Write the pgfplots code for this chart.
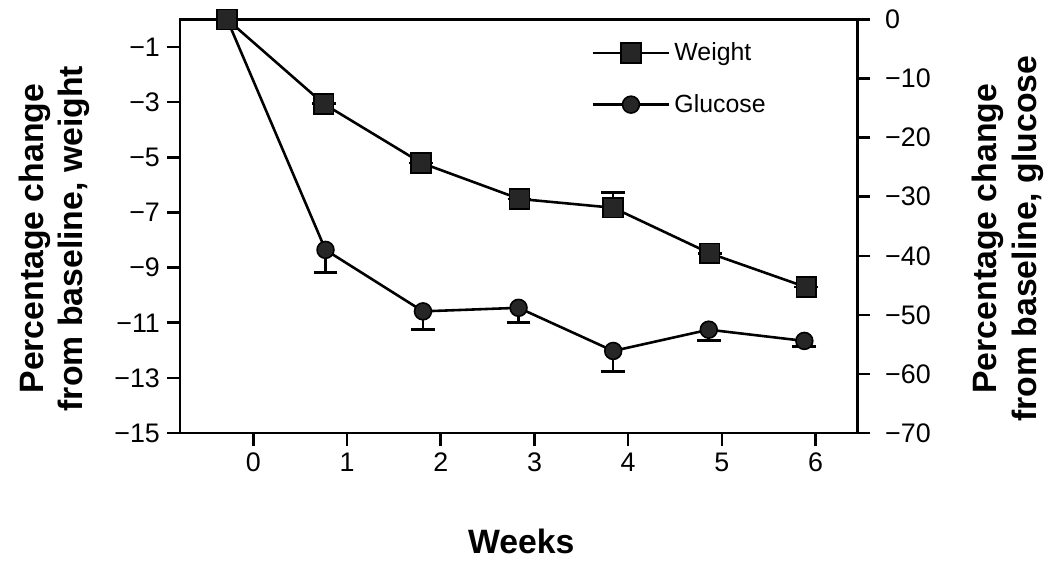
\documentclass[border=0pt]{standalone}
\usepackage{fontspec}
\setmainfont{Liberation Sans}
\usepackage{pgfplots}
\pgfplotsset{compat=1.18}
\begin{document}
\begin{tikzpicture}
\pgfplotsset{
  base/.style={
    scale only axis, width=341pt, height=208.25pt,
    xmin=-0.785, xmax=6.445,
    axis line style={line width=1.3pt},
    every tick/.style={line width=1.3pt, black},
    major tick length=6.5pt,
    tick align=outside,
    tick label style={font=\fontsize{13.5}{16}\selectfont},
    label style={font=\fontsize{17}{20}\selectfont\bfseries, align=center},
  },
  wstyle/.style={line width=1.3pt, black, mark=square*, mark size=5pt,
    mark options={fill=black!85, draw=black, line width=0.8pt}},
  gstyle/.style={line width=1.3pt, black, mark=*, mark size=4.25pt,
    mark options={fill=black!85, draw=black, line width=0.8pt}},
}
\begin{axis}[base,
  ymin=-70, ymax=0,
  ytick={-70,-60,-50,-40,-30,-20,-10,0},
  yticklabels={−70,−60,−50,−40,−30,−20,−10,0},
  yticklabel style={xshift=4pt},
  axis y line*=right, axis x line=none,
  ylabel={Percentage change\\from baseline, glucose},
  ylabel style={at={(axis description cs:1.222,0.47)}, anchor=center},
]
\addplot+[gstyle, error bars/.cd, y dir=minus, y explicit,
  error bar style={line width=1.3pt, black},
  error mark options={rotate=90, mark size=6pt, line width=1.3pt, black}]
  coordinates {
  (-0.28,0) +- (0,0)
  (0.77,-39.0) +- (0,3.8)
  (1.81,-49.4) +- (0,3.1)
  (2.83,-48.8) +- (0,2.5)
  (3.84,-56.1) +- (0,3.5)
  (4.86,-52.5) +- (0,1.85)
  (5.88,-54.4) +- (0,0.9)
};
\end{axis}
\begin{axis}[base,
  ymin=-15, ymax=0,
  ytick={-15,-13,-11,-9,-7,-5,-3,-1},
  yticklabels={−15,−13,−11,−9,−7,−5,−3,−1},
  xtick={0,1,2,3,4,5,6},
  xticklabels={0,1,2,3,4,5,6},
  xtick pos=left, ytick pos=left,
  xlabel={Weeks},
  ylabel={Percentage change\\from baseline, weight},
  xlabel style={at={(axis description cs:0.504,-0.262)}, anchor=center},
  ylabel style={at={(axis description cs:-0.185,0.47)}, anchor=center},
  legend image code/.code={\draw[mark repeat=2, mark phase=2, #1] plot coordinates {(0pt,0pt) (19.25pt,0pt) (38.5pt,0pt)};},
  legend style={at={(axis description cs:0.607,0.955)}, anchor=north west,
    draw=none, fill=none, inner sep=0pt, row sep=11.5pt,
    font=\fontsize{12.5}{15}\selectfont},
  legend cell align=left,
]
\coordinate (bl) at (rel axis cs:0,0);
\addplot+[wstyle, error bars/.cd, y dir=plus, y explicit,
  error bar style={line width=1.3pt, black},
  error mark options={rotate=90, mark size=6pt, line width=1.3pt, black}]
  coordinates {
  (-0.28,0) +- (0,0)
  (0.75,-3.06) +- (0,0)
  (1.79,-5.20) +- (0,0)
  (2.84,-6.51) +- (0,0)
  (3.84,-6.83) +- (0,0.56)
  (4.87,-8.48) +- (0,0)
  (5.90,-9.71) +- (0,0)
};
\addlegendentry{Weight}
\addlegendimage{gstyle}
\addlegendentry{Glucose}
\end{axis}
\path (bl) ++(-90.5pt,-65.5pt) rectangle ++(525pt,283.5pt);
\end{tikzpicture}
\end{document}
